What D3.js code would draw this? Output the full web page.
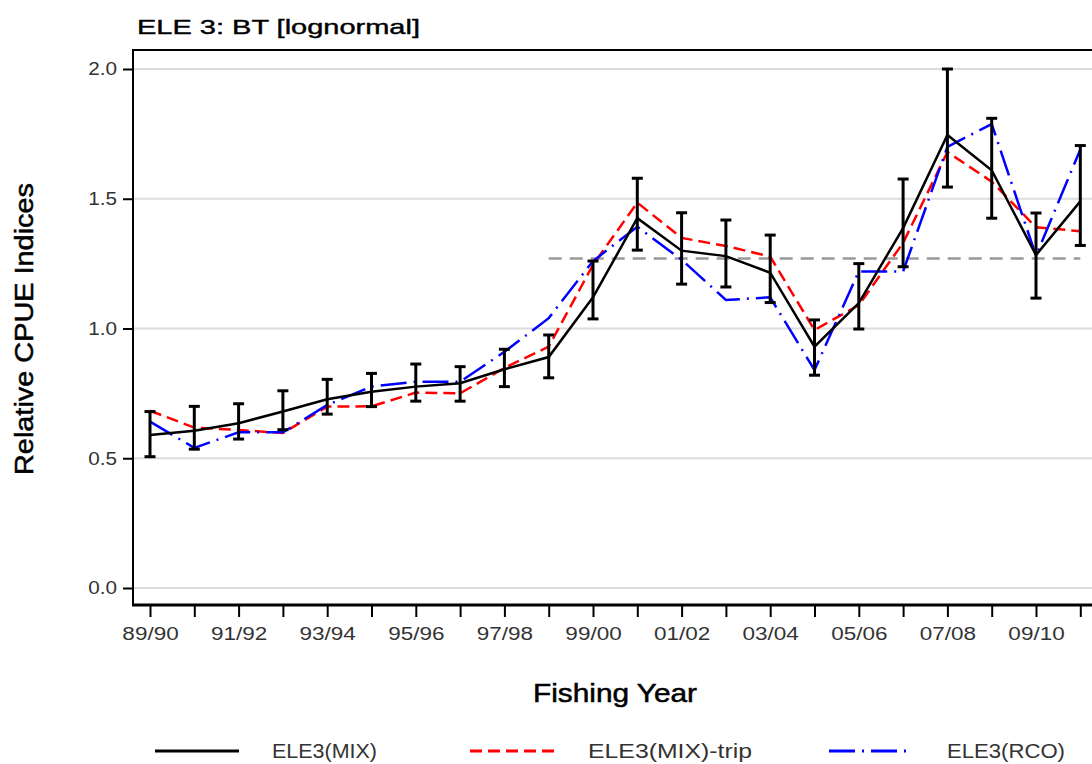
<!DOCTYPE html>
<html>
<head>
<meta charset="utf-8">
<script src="https://cdn.jsdelivr.net/npm/d3@7"></script>
<style>
  body { margin: 0; background: #fff; }
  svg { display: block; font-family: "Liberation Sans", Arial, sans-serif; }
</style>
</head>
<body>
<div id="chart"></div>
<script>
// Fishing years on the x axis
const years = [
  "89/90", "90/91", "91/92", "92/93", "93/94", "94/95", "95/96", "96/97",
  "97/98", "98/99", "99/00", "00/01", "01/02", "02/03", "03/04", "04/05",
  "05/06", "06/07", "07/08", "08/09", "09/10", "10/11"
];
const labelledYears = ["89/90", "91/92", "93/94", "95/96", "97/98", "99/00", "01/02", "03/04", "05/06", "07/08", "09/10"];

// ELE3(MIX) with its confidence interval
const mix = [0.59, 0.606, 0.635, 0.68, 0.727, 0.756, 0.776, 0.789, 0.843, 0.89, 1.12, 1.425, 1.30, 1.279, 1.215, 0.93, 1.098, 1.387, 1.746, 1.61, 1.283, 1.49];
const mixLower = [0.506, 0.535, 0.574, 0.61, 0.67, 0.699, 0.72, 0.72, 0.776, 0.81, 1.037, 1.302, 1.171, 1.16, 1.10, 0.82, 0.998, 1.238, 1.545, 1.425, 1.117, 1.32];
const mixUpper = [0.68, 0.70, 0.71, 0.76, 0.804, 0.827, 0.863, 0.853, 0.92, 0.975, 1.26, 1.579, 1.446, 1.418, 1.36, 1.033, 1.25, 1.576, 2.0, 1.81, 1.445, 1.705];

// ELE3(MIX)-trip and ELE3(RCO)
const trip = [0.683, 0.618, 0.609, 0.597, 0.699, 0.70, 0.753, 0.75, 0.848, 0.93, 1.245, 1.485, 1.349, 1.318, 1.277, 0.994, 1.09, 1.33, 1.68, 1.566, 1.39, 1.375];
const rco = [0.641, 0.54, 0.60, 0.60, 0.705, 0.776, 0.795, 0.795, 0.91, 1.04, 1.26, 1.392, 1.265, 1.11, 1.12, 0.84, 1.22, 1.22, 1.70, 1.788, 1.28, 1.69];

// Reference level (grey dashed line) from 98/99 on
const refYears = ["98/99", "10/11"];
const refValue = 1.27;

const yTicks = [0, 0.5, 1.0, 1.5, 2.0];

const legendItems = [
  { name: "ELE3(MIX)", color: "#000", dash: null },
  { name: "ELE3(MIX)-trip", color: "#f00", dash: "12,6" },
  { name: "ELE3(RCO)", color: "#00f", dash: "26,7,2,7" }
];

const W = 1092, H = 764;
const plot = { left: 133, top: 50, right: 1110, bottom: 605 };

const svg = d3
  .select("#chart")
  .append("svg")
  .attr("width", W)
  .attr("height", H);

// Scales
const xScale = d3.scalePoint().domain(years).range([150, 1080.3]);
const yScale = d3.scaleLinear().domain([0, 2]).range([588, 69]);

// stretch text horizontally (the source image is wider than tall)
const stretch = (sel, k) =>
  sel.each(function () {
    const w = this.getComputedTextLength();
    d3.select(this).attr("textLength", w * k).attr("lengthAdjust", "spacingAndGlyphs");
  });

// Gridlines
svg
  .selectAll(".grid")
  .data(yTicks)
  .enter()
  .append("line")
  .attr("class", "grid")
  .attr("x1", plot.left)
  .attr("x2", plot.right)
  .attr("y1", d => yScale(d))
  .attr("y2", d => yScale(d))
  .attr("stroke", "#dcdcdc")
  .attr("stroke-width", 2);

// Frame: top border
svg
  .append("line")
  .attr("x1", plot.left)
  .attr("x2", plot.right)
  .attr("y1", plot.top)
  .attr("y2", plot.top)
  .attr("stroke", "#000")
  .attr("stroke-width", 2);

// Axes
const yAxis = d3
  .axisLeft(yScale)
  .tickValues(yTicks)
  .tickFormat(d3.format(".1f"))
  .tickSize(10)
  .tickPadding(6);
const yAxisG = svg
  .append("g")
  .attr("transform", `translate(${plot.left}, 0)`)
  .call(yAxis);
yAxisG.select(".domain").remove();
yAxisG.selectAll(".tick line").attr("stroke", "#000").attr("stroke-width", 2);
yAxisG
  .selectAll(".tick text")
  .attr("font-size", 18)
  .attr("fill", "#333")
  .attr("font-family", "Liberation Sans, Arial, sans-serif")
  .call(stretch, 1.15);

const xAxis = d3
  .axisBottom(xScale)
  .tickFormat(d => (labelledYears.includes(d) ? d : ""))
  .tickSize(12)
  .tickPadding(10);
const xAxisG = svg
  .append("g")
  .attr("transform", `translate(0, ${plot.bottom})`)
  .call(xAxis);
xAxisG.select(".domain").remove();
xAxisG.selectAll(".tick line").attr("stroke", "#000").attr("stroke-width", 2);
xAxisG
  .selectAll(".tick text")
  .attr("font-size", 18)
  .attr("fill", "#333")
  .attr("font-family", "Liberation Sans, Arial, sans-serif")
  .filter(d => labelledYears.includes(d))
  .call(stretch, 1.25);

// Axis lines
svg
  .append("line")
  .attr("x1", plot.left)
  .attr("x2", plot.left)
  .attr("y1", plot.top - 1)
  .attr("y2", plot.bottom + 1)
  .attr("stroke", "#000")
  .attr("stroke-width", 2);
svg
  .append("line")
  .attr("x1", plot.left - 1)
  .attr("x2", plot.right)
  .attr("y1", plot.bottom)
  .attr("y2", plot.bottom)
  .attr("stroke", "#000")
  .attr("stroke-width", 3);

// Reference line
svg
  .append("line")
  .attr("x1", xScale(refYears[0]))
  .attr("x2", xScale(refYears[1]))
  .attr("y1", yScale(refValue))
  .attr("y2", yScale(refValue))
  .attr("stroke", "#999")
  .attr("stroke-width", 2.5)
  .attr("stroke-dasharray", "13,8");

// Series lines
const lineGenerator = d3
  .line()
  .x((d, i) => xScale(years[i]))
  .y(d => yScale(d));

const drawSeries = (data, color, dash) =>
  svg
    .append("path")
    .datum(data)
    .attr("d", lineGenerator)
    .attr("fill", "none")
    .attr("stroke", color)
    .attr("stroke-width", 2.5)
    .attr("stroke-dasharray", dash);

drawSeries(trip, legendItems[1].color, legendItems[1].dash);
drawSeries(rco, legendItems[2].color, legendItems[2].dash);
drawSeries(mix, legendItems[0].color, null);

// Error bars for ELE3(MIX)
const bars = svg
  .selectAll(".errbar")
  .data(years)
  .enter()
  .append("g")
  .attr("class", "errbar")
  .attr("stroke", "#000")
  .attr("stroke-width", 3);
bars
  .append("line")
  .attr("x1", d => xScale(d))
  .attr("x2", d => xScale(d))
  .attr("y1", (d, i) => yScale(mixUpper[i]))
  .attr("y2", (d, i) => yScale(mixLower[i]));
bars
  .append("line")
  .attr("x1", d => xScale(d) - 5.5)
  .attr("x2", d => xScale(d) + 5.5)
  .attr("y1", (d, i) => yScale(mixUpper[i]))
  .attr("y2", (d, i) => yScale(mixUpper[i]));
bars
  .append("line")
  .attr("x1", d => xScale(d) - 5.5)
  .attr("x2", d => xScale(d) + 5.5)
  .attr("y1", (d, i) => yScale(mixLower[i]))
  .attr("y2", (d, i) => yScale(mixLower[i]));

// Titles
svg
  .append("text")
  .attr("x", 137)
  .attr("y", 34)
  .attr("font-size", 21)
  .attr("fill", "#000")
  .attr("stroke", "#000")
  .attr("stroke-width", 0.4)
  .text("ELE 3: BT [lognormal]")
  .attr("textLength", 283)
  .attr("lengthAdjust", "spacingAndGlyphs");

svg
  .append("text")
  .attr("x", 615)
  .attr("y", 702)
  .attr("text-anchor", "middle")
  .attr("font-size", 25)
  .attr("fill", "#000")
  .attr("stroke", "#000")
  .attr("stroke-width", 0.5)
  .text("Fishing Year")
  .attr("textLength", 164)
  .attr("lengthAdjust", "spacingAndGlyphs");

svg
  .append("text")
  .attr("transform", "translate(33, 329) rotate(-90)")
  .attr("text-anchor", "middle")
  .attr("font-size", 25)
  .attr("fill", "#000")
  .attr("stroke", "#000")
  .attr("stroke-width", 0.5)
  .text("Relative CPUE Indices")
  .attr("textLength", 292)
  .attr("lengthAdjust", "spacingAndGlyphs");

// Legend
const legendX = [155, 470, 829];
const legendTextX = [272, 588, 947];
const legendWidths = [105, 164, 118];
const legend = svg
  .selectAll(".legend")
  .data(legendItems)
  .enter()
  .append("g")
  .attr("class", "legend");
legend
  .append("line")
  .attr("x1", (d, i) => legendX[i])
  .attr("x2", (d, i) => legendX[i] + 84)
  .attr("y1", 751)
  .attr("y2", 751)
  .attr("stroke", d => d.color)
  .attr("stroke-width", 3)
  .attr("stroke-dasharray", d => d.dash);
legend
  .append("text")
  .attr("x", (d, i) => legendTextX[i])
  .attr("y", 758)
  .attr("font-size", 20)
  .attr("fill", "#333")
  .text(d => d.name)
  .attr("textLength", (d, i) => legendWidths[i])
  .attr("lengthAdjust", "spacingAndGlyphs");
</script>
</body>
</html>
